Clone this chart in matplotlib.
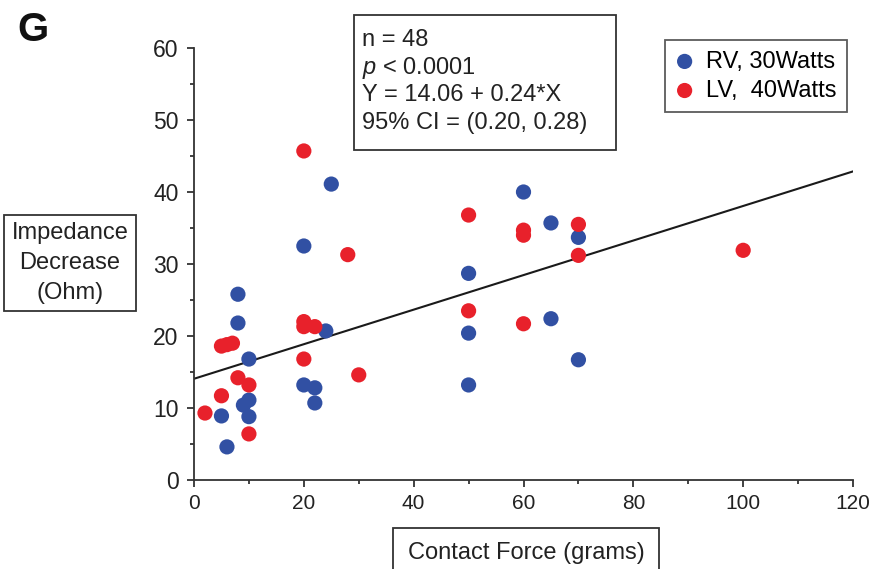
import matplotlib.pyplot as plt
from matplotlib.patches import Rectangle
from matplotlib.ticker import MultipleLocator
import numpy as np

plt.rcParams['font.family'] = ['Liberation Sans', 'DejaVu Sans']
plt.rcParams['mathtext.fontset'] = 'custom'
plt.rcParams['mathtext.it'] = 'Liberation Sans:italic'
plt.rcParams['mathtext.rm'] = 'Liberation Sans'

# RV ablations, 30 W
rv_force = [25, 20, 8, 8, 10, 24, 20, 22, 22, 10, 9, 10, 5, 6,
            60, 65, 70, 50, 50, 65, 70, 50]
rv_imp = [41.1, 32.5, 25.8, 21.8, 16.8, 20.7, 13.2, 12.8, 10.7, 11.1, 10.4, 8.8, 8.9, 4.6,
          40.0, 35.7, 33.7, 28.7, 20.4, 22.4, 16.7, 13.2]

# LV ablations, 40 W
lv_force = [20, 28, 5, 6, 7, 20, 20, 22, 20, 30, 8, 10, 5, 2, 10,
            50, 70, 60, 60, 70, 50, 60, 100]
lv_imp = [45.7, 31.3, 18.6, 18.8, 19.0, 22.0, 21.3, 21.3, 16.8, 14.6, 14.2, 13.2, 11.7, 9.3, 6.4,
          36.8, 35.5, 34.7, 34.0, 31.2, 23.5, 21.7, 31.9]

intercept, slope = 14.06, 0.24
stats_lines = ['n = 48', '$p$ < 0.0001', 'Y = 14.06 + 0.24*X', '95% CI = (0.20, 0.28)']

W, H = 871, 569
fig = plt.figure(figsize=(W / 100, H / 100), dpi=100)
ax = fig.add_axes([194 / W, 1 - 480 / H, (853 - 194) / W, (480 - 48) / H])

blue = '#3150a3'
red = '#e8212b'
ax.scatter(rv_force, rv_imp, s=120, color=blue, edgecolors='none', zorder=3,
           label='RV, 30Watts')
ax.scatter(lv_force, lv_imp, s=120, color=red, edgecolors='none', zorder=3,
           label='LV,  40Watts')

# fitted regression line
xs = np.array([0, 120])
ax.plot(xs, intercept + slope * xs, color='#1a1a1a', lw=1.5, zorder=2)

ax.set_xlim(0, 120)
ax.set_ylim(0, 60)
ax.xaxis.set_major_locator(MultipleLocator(20))
ax.xaxis.set_minor_locator(MultipleLocator(10))
ax.yaxis.set_major_locator(MultipleLocator(10))
ax.yaxis.set_minor_locator(MultipleLocator(5))
for s in ['top', 'right']:
    ax.spines[s].set_visible(False)
for s in ['left', 'bottom']:
    ax.spines[s].set_color('#333333')
    ax.spines[s].set_linewidth(1.3)
ax.tick_params(which='major', length=5, width=1.3, colors='#333333',
               labelcolor='#222222')
ax.tick_params(which='minor', length=3, width=1.3, colors='#333333')
ax.tick_params(axis='y', pad=6, labelsize=16.5)
ax.tick_params(axis='x', pad=5, labelsize=15)

leg = ax.legend(loc='upper right', bbox_to_anchor=(847 / W, 1 - 40 / H),
                bbox_transform=fig.transFigure, fontsize=17, frameon=True,
                fancybox=False, handletextpad=0.5, handlelength=0.8,
                borderpad=0.45, labelspacing=0.3, borderaxespad=0)
leg.get_frame().set_edgecolor('#333333')
leg.get_frame().set_linewidth(1.3)

# regression stats box
fig.patches.append(Rectangle((354 / W, 1 - 150 / H), (616 - 354) / W, (150 - 15) / H,
                             transform=fig.transFigure, fill=False,
                             edgecolor='#333333', lw=1.3))
for i, line in enumerate(stats_lines):
    fig.text(362 / W, 1 - (40 + 27.7 * i) / H, line, fontsize=17, va='center',
             color='#222222')

fig.text(17 / W, 1 - 30 / H, 'G', fontsize=29, fontweight='bold', va='center',
         ha='left', color='#111111')

fig.text(70 / W, 1 - 263 / H, 'Impedance\nDecrease\n(Ohm)', fontsize=17,
         ha='center', va='center', linespacing=1.45, color='#222222',
         bbox=dict(boxstyle='square,pad=0.3', fc='white', ec='#333333', lw=1.3))

fig.text(526 / W, 1 - 553 / H, 'Contact Force (grams)', fontsize=17,
         ha='center', va='center', color='#222222',
         bbox=dict(boxstyle='square,pad=0.6', fc='white', ec='#333333', lw=1.3))

fig.savefig('out.png', dpi=100)
